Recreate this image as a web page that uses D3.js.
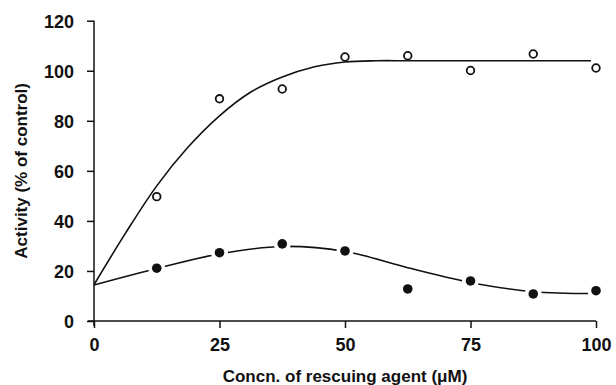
<!DOCTYPE html>
<html>
<head>
<meta charset="utf-8">
<script src="https://cdn.jsdelivr.net/npm/d3@7"></script>
<style>
  html, body { margin: 0; padding: 0; background: #fff; }
  svg { display: block; }
  text { font-family: "Liberation Sans", Arial, sans-serif; fill: #111; }
</style>
</head>
<body>
<svg id="chart" width="616" height="385"></svg>
<script>
// ---- data ----
const concentrations = [12.5, 25, 37.5, 50, 62.5, 75, 87.5, 100];
const openValues     = [49.7, 88.8, 92.7, 105.5, 106, 100.1, 106.7, 101.1];
const filledValues   = [21.1, 27.3, 30.8, 28.0, 12.8, 16.0, 10.8, 12.1];

const openFitX = [0, 6.25, 12.5, 18.75, 25, 31.25, 37.5, 43.75, 50, 56.25, 62.5, 75, 87.5, 99];
const openFitY = [14.5, 35, 54, 69.5, 82, 91.5, 97.5, 101.5, 103.5, 104, 104, 104, 104, 104];
const filledFitX = [0, 12.5, 25, 37.5, 50, 62.5, 75, 87.5, 100];
const filledFitY = [14.4, 21, 26.8, 29.8, 27.8, 21.3, 15.4, 11.7, 11];

const xTicks = [0, 25, 50, 75, 100];
const yTicks = [0, 20, 40, 60, 80, 100, 120];
const xTitle = "Concn. of rescuing agent (\u03bcM)";
const yTitle = "Activity (% of control)";

// ---- layout ----
const svg = d3.select("#chart");
const ink = "#111";
const x = d3.scaleLinear().domain([0, 100]).range([94, 596]);
const y = d3.scaleLinear().domain([0, 120]).range([321, 20.7]);

// axes
const gx = svg.append("g").attr("transform", `translate(0,${y(0)})`)
  .call(d3.axisBottom(x).tickValues(xTicks).tickSize(7).tickPadding(9).tickSizeOuter(0));
const gy = svg.append("g").attr("transform", `translate(${x(0)},0)`)
  .call(d3.axisLeft(y).tickValues(yTicks).tickSize(7).tickPadding(13).tickSizeOuter(0));
[gx, gy].forEach(g => {
  g.select(".domain").remove();
  g.selectAll(".tick line").attr("stroke", ink).attr("stroke-width", 1.5);
  g.selectAll(".tick text").attr("fill", ink)
    .style("font-family", '"Liberation Sans", Arial, sans-serif')
    .style("font-weight", "bold").style("font-size", "18px");
});
gy.selectAll(".tick text").attr("dy", "0.36em");
gx.selectAll(".tick text").attr("dy", "0.8em");
// axis lines (slightly extending past origin)
svg.append("line").attr("x1", x(0) - 6).attr("x2", x(100)).attr("y1", y(0)).attr("y2", y(0))
  .attr("stroke", ink).attr("stroke-width", 1.5);
svg.append("line").attr("x1", x(0)).attr("x2", x(0)).attr("y1", y(120)).attr("y2", y(0) + 5)
  .attr("stroke", ink).attr("stroke-width", 1.5);

// titles
svg.append("text").attr("x", 345).attr("y", 382).attr("text-anchor", "middle")
  .style("font-size", "17px").style("font-weight", "bold").text(xTitle);
svg.append("text").attr("transform", `translate(27,${y(60)}) rotate(-90)`)
  .attr("text-anchor", "middle")
  .style("font-size", "17px").style("font-weight", "bold").text(yTitle);

// fitted curves
const line = d3.line().x(d => x(d[0])).y(d => y(d[1])).curve(d3.curveCatmullRom.alpha(0.5));
svg.append("path").datum(openFitX.map((v, i) => [v, openFitY[i]]))
  .attr("d", line).attr("fill", "none").attr("stroke", ink).attr("stroke-width", 1.6);
svg.append("path").datum(filledFitX.map((v, i) => [v, filledFitY[i]]))
  .attr("d", line).attr("fill", "none").attr("stroke", ink).attr("stroke-width", 1.6);

// halos producing the gaps around filled points
svg.append("g").selectAll("circle").data(concentrations).join("circle")
  .attr("cx", d => x(d)).attr("cy", (d, i) => y(filledValues[i])).attr("r", 8.5)
  .attr("fill", "#fff");

// markers
svg.append("g").selectAll("circle").data(concentrations).join("circle")
  .attr("cx", d => x(d)).attr("cy", (d, i) => y(filledValues[i])).attr("r", 4.8)
  .attr("fill", ink);
svg.append("g").selectAll("circle").data(concentrations).join("circle")
  .attr("cx", d => x(d)).attr("cy", (d, i) => y(openValues[i])).attr("r", 3.8)
  .attr("fill", "#fff").attr("stroke", ink).attr("stroke-width", 1.8);
</script>
</body>
</html>
